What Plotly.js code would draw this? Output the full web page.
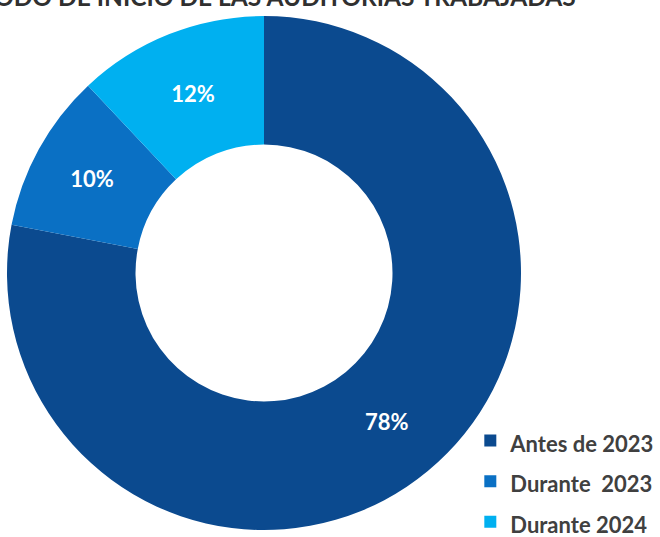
<!DOCTYPE html>
<html>
<head>
<meta charset="utf-8">
<script src="https://cdn.plot.ly/plotly-3.0.1.min.js"></script>
<style>html,body{margin:0;padding:0;background:#fff;}#chart{width:660px;height:537px;}</style>
</head>
<body>
<div id="chart"></div>
<script>
// Data
const titleText = "PERIODO DE INICIO DE LAS AUDITORIAS TRABAJADAS";
const categories = ["Antes de 2023", "Durante\u00a0 2023", "Durante 2024"];
const values = [78, 10, 12];
const colors = ["#0B4A8F", "#0A70C4", "#00B0F0"];

const legendLabels = categories.map(c => '<span style="font-size:22px">' + c + '</span>');

const trace = {
  type: "pie",
  labels: legendLabels,
  values: values,
  hole: 0.5,
  sort: false,
  direction: "clockwise",
  rotation: 0,
  marker: { colors: colors, line: { color: "#ffffff", width: 0 } },
  textinfo: "percent",
  texttemplate: "%{percent:.0%}",
  textposition: "inside",
  insidetextorientation: "horizontal",
  textfont: { family: "Lato, 'Open Sans', sans-serif", size: 22, color: "#ffffff", weight: "bold" },
  domain: { x: [0.0106, 0.7894], y: [0.0130, 0.9702] },
  hoverinfo: "none"
};

const layout = {
  width: 660,
  height: 537,
  margin: { l: 0, r: 0, t: 0, b: 0, autoexpand: false },
  paper_bgcolor: "#ffffff",
  title: {
    text: "<b>" + titleText + "</b>",
    x: 0.392, xanchor: "center", xref: "container",
    y: 0.9885, yanchor: "bottom", yref: "container",
    font: { family: "Lato, 'Open Sans', sans-serif", size: 24.5, color: "#303030" }
  },
  showlegend: true,
  legend: {
    x: 0.7126, xanchor: "left",
    y: 0.227, yanchor: "top",
    bgcolor: "rgba(0,0,0,0)",
    font: { family: "Lato, 'Open Sans', sans-serif", size: 29, color: "#404040", weight: "bold" },
    itemwidth: 30
  }
};

Plotly.newPlot("chart", [trace], layout, { displayModeBar: false, staticPlot: true });
</script>
</body>
</html>
